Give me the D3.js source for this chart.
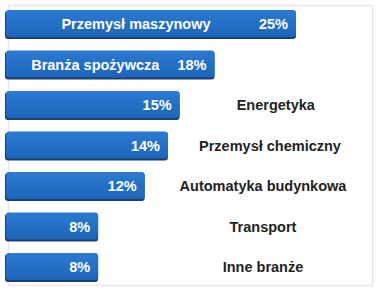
<!DOCTYPE html>
<html>
<head>
<meta charset="utf-8">
<script src="https://cdn.jsdelivr.net/npm/d3@7"></script>
<style>
  body { margin: 0; background: #fff; }
  text { font-family: "Liberation Sans", Arial, sans-serif; font-weight: bold; }
</style>
</head>
<body>
<svg id="chart"></svg>
<script>
// data
var categories = ['Przemysł maszynowy', 'Branża spożywcza', 'Energetyka', 'Przemysł chemiczny',
                  'Automatyka budynkowa', 'Transport', 'Inne branże'];
var values = [25, 18, 15, 14, 12, 8, 8];
var insideLabel = [true, true, false, false, false, false, false];

var svgWidth = 378, svgHeight = 291;
var frame = {left: 8, top: 5, right: 372, bottom: 285};

var svg = d3.select('#chart')
    .attr('width', svgWidth)
    .attr('height', svgHeight);

// gradient for bars
var defs = svg.append('defs');
var grad = defs.append('linearGradient')
    .attr('id', 'barGrad')
    .attr('x1', 0).attr('y1', 0).attr('x2', 0).attr('y2', 1);
grad.append('stop').attr('offset', '0%').attr('stop-color', '#2b7ad2');
grad.append('stop').attr('offset', '100%').attr('stop-color', '#1d65b9');

// frame
svg.append('rect')
    .attr('x', frame.left + 0.5)
    .attr('y', frame.top + 0.5)
    .attr('width', frame.right - frame.left)
    .attr('height', frame.bottom - frame.top)
    .style('fill', 'none')
    .style('stroke', '#e6e6e6')
    .style('stroke-width', 1.5);

var x = d3.scaleLinear()
    .domain([0, 25])
    .range([5, 296]);

var y = d3.scaleBand()
    .domain(categories)
    .range([10, 281])
    .paddingInner(0.31)
    .paddingOuter(0);

var bars = svg.selectAll('g.bar')
    .data(categories)
    .enter()
    .append('g')
    .attr('class', 'bar');

// shadow edge
bars.append('rect')
    .attr('x', x(0))
    .attr('y', function(d){ return y(d) + 1; })
    .attr('width', function(d, i){ return x(values[i]) - x(0); })
    .attr('height', y.bandwidth())
    .attr('rx', 3)
    .style('fill', '#1a3f70');

bars.append('rect')
    .attr('x', x(0) + 1)
    .attr('y', function(d){ return y(d); })
    .attr('width', function(d, i){ return x(values[i]) - x(0) - 1; })
    .attr('height', y.bandwidth() - 1)
    .attr('rx', 3)
    .style('fill', 'url(#barGrad)');

// percent labels
bars.append('text')
    .text(function(d, i){ return values[i] + '%'; })
    .attr('x', function(d, i){ return x(values[i]) - 8; })
    .attr('y', function(d){ return y(d) + y.bandwidth() / 2; })
    .attr('dy', '0.36em')
    .attr('text-anchor', 'end')
    .style('font-size', '14.5px')
    .style('fill', '#fff');

// category labels
bars.append('text')
    .text(function(d){ return d; })
    .attr('x', function(d, i){
        if (insideLabel[i]) return (x(0) + x(values[i]) - 34) / 2 + 2.5;
        return Math.max(263, (x(values[i]) + frame.right) / 2);
    })
    .attr('y', function(d){ return y(d) + y.bandwidth() / 2; })
    .attr('dy', '0.36em')
    .attr('text-anchor', 'middle')
    .style('font-size', '14.5px')
    .style('fill', function(d, i){ return insideLabel[i] ? '#fff' : '#222'; });
</script>
</body>
</html>
